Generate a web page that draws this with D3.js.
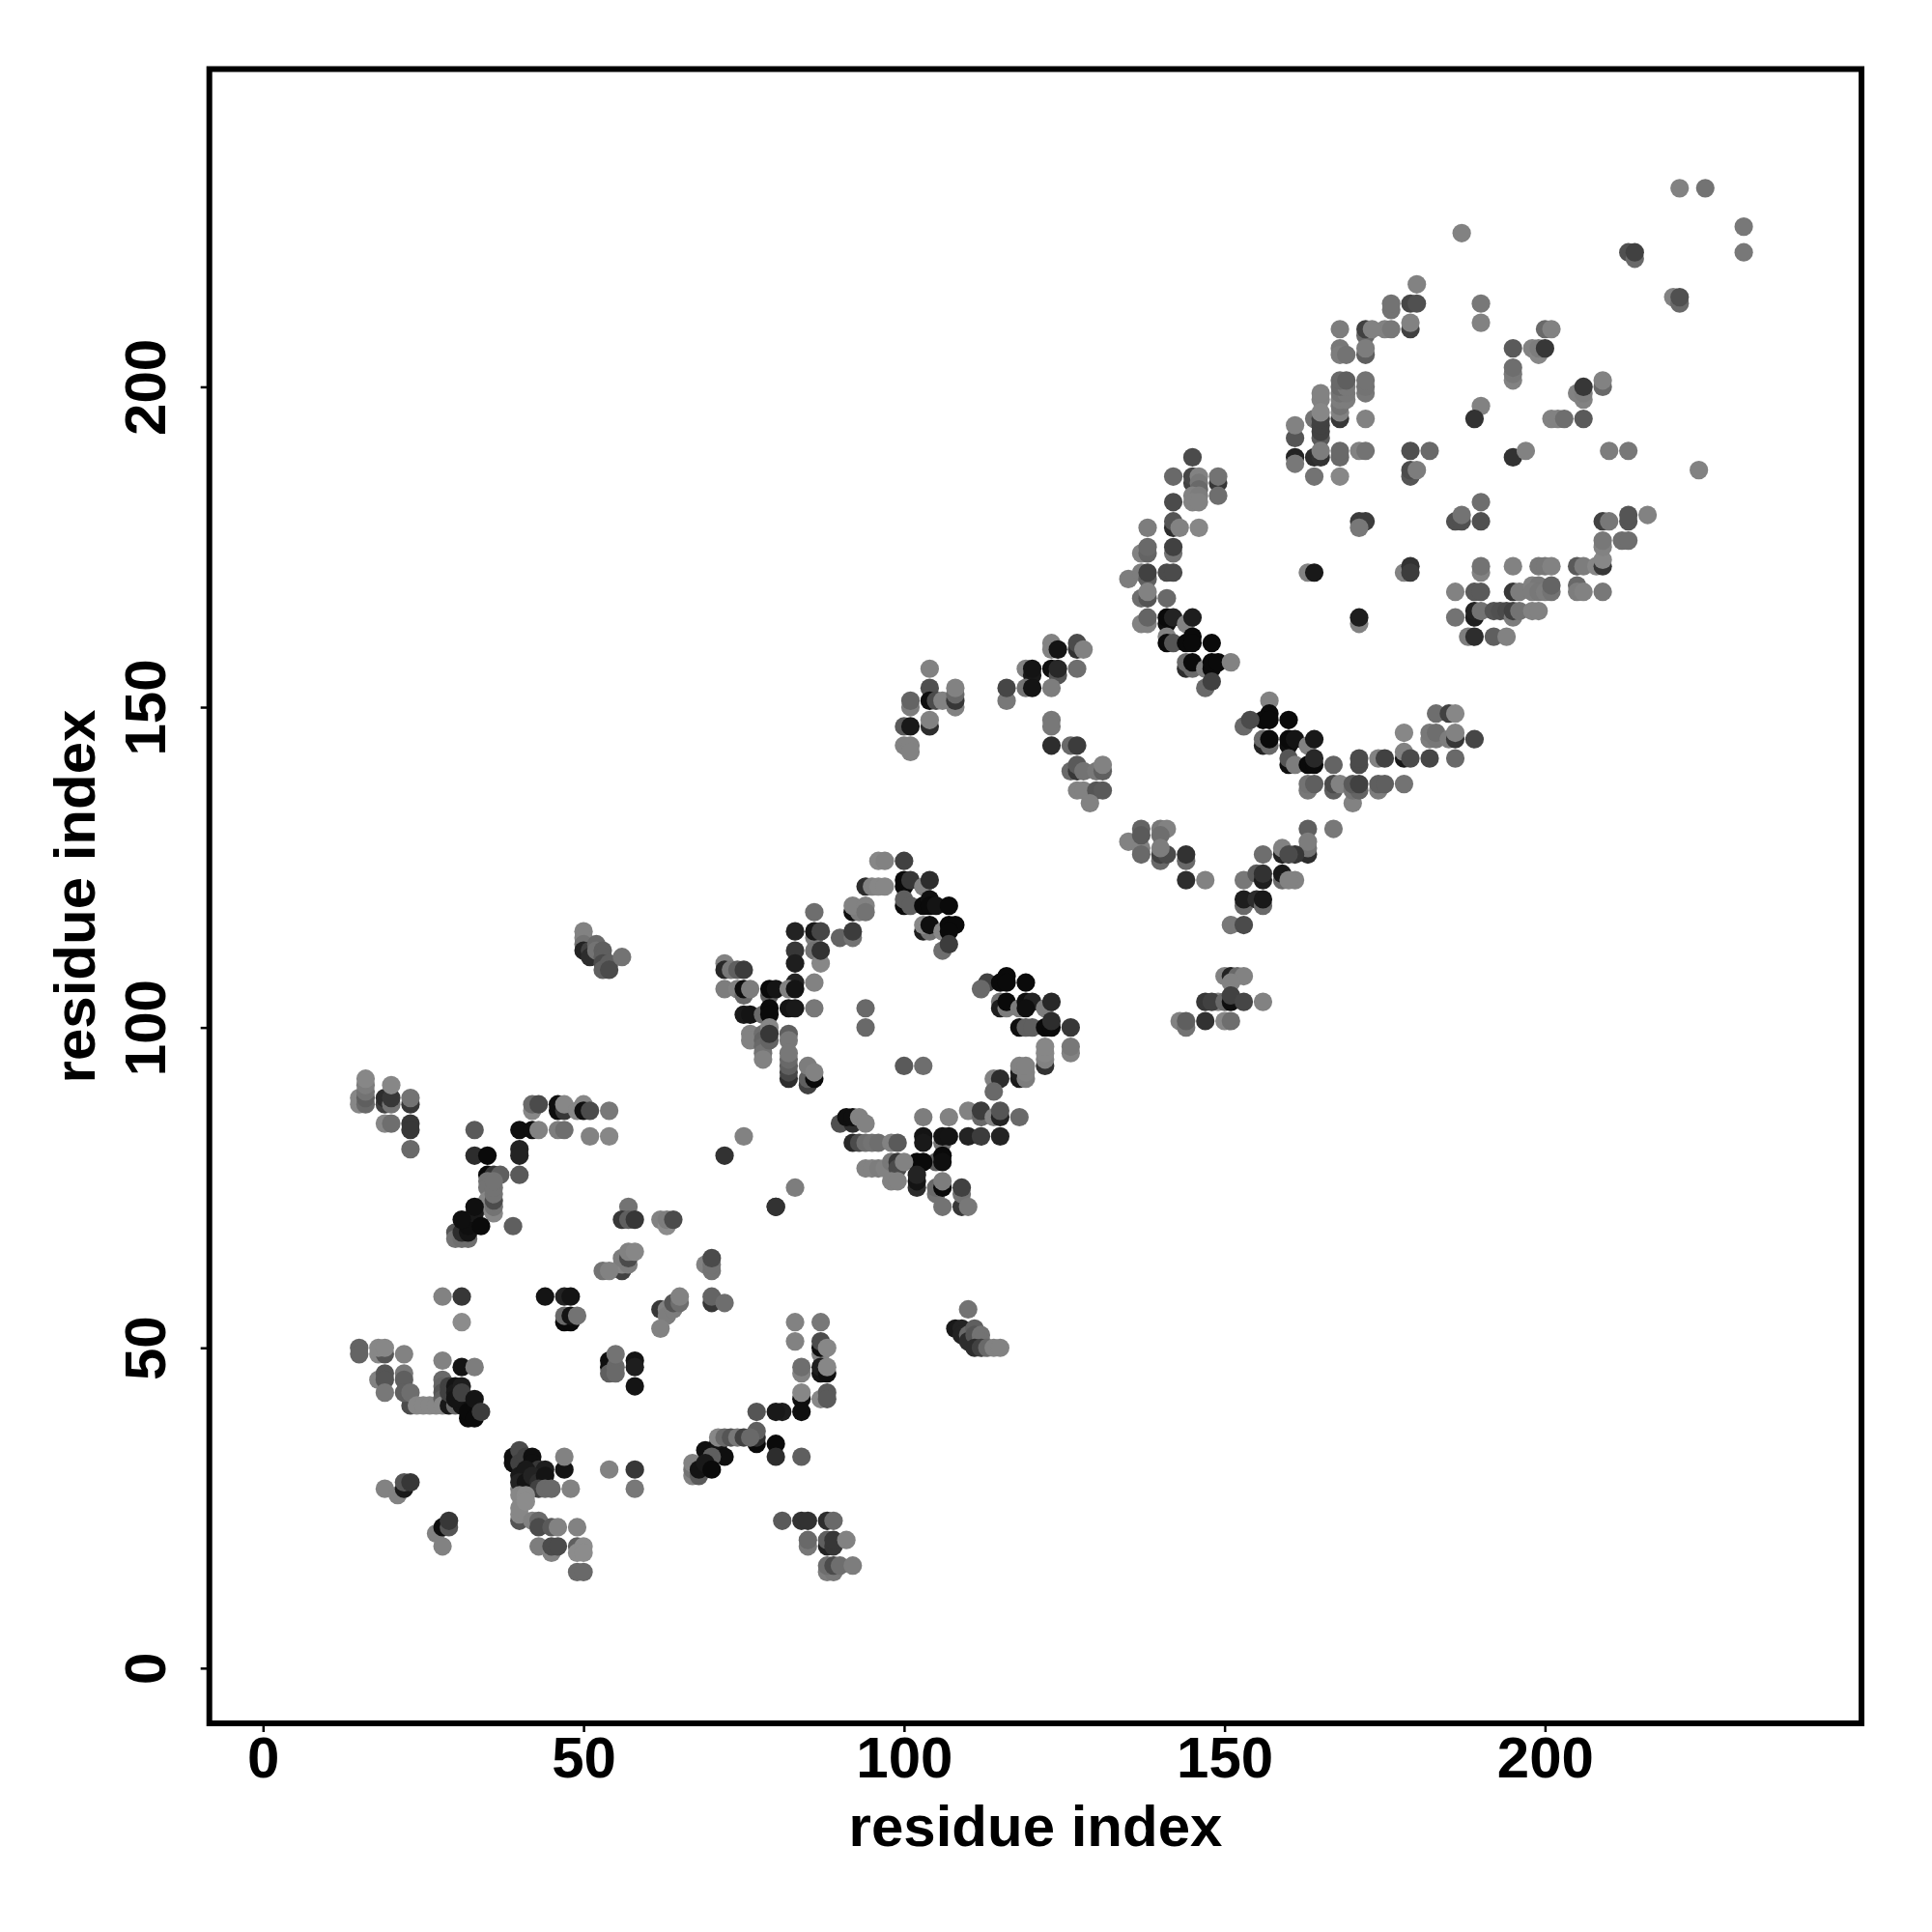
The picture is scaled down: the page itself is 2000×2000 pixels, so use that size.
<!DOCTYPE html>
<html><head><meta charset="utf-8">
<script src="https://cdnjs.cloudflare.com/ajax/libs/d3/7.8.5/d3.min.js"></script>
<style>html,body{margin:0;padding:0;background:#fff}svg{display:block}</style></head>
<body><svg id="c" width="2000" height="2000"></svg>
<script>
const tickLabels=[0,50,100,150,200];
const axisTitle="residue index";
// each entry: [residue i, residue j, grey level of the dot]
const lowerLeftA=[[15,89,130],[15,88,130],[16,88,100],[16,89,90],[16,90,110],[16,91,120],[16,92,130],[19,88,60],[19,89,40],[20,88,110],[20,89,50],[20,91,130],[23,88,50],[23,89,110],[19,85,130],[20,85,105],[23,85,50],[23,84,50],[23,81,100],[33,84,85],[33,80,40],[35,80,5],[40,84,10],[42,84,10],[43,84,125],[46,84,120],[47,84,105],[40,81,30],[40,80,30],[40,77,85],[42,87,130],[42,88,100],[43,88,70],[46,87,10],[46,88,10],[47,87,50],[47,88,130],[49,87,130],[50,88,130],[50,87,10],[51,87,70],[54,87,115],[51,83,125],[54,83,130],[35,77,5],[36,77,50],[37,77,90],[35,76,110],[35,75,110],[35,73,130],[34,72,130],[36,71,130],[36,72,110],[36,73,70],[36,74,110],[36,75,110],[36,76,110],[30,68,80],[30,67,110],[31,67,105],[32,67,105],[31,68,40],[32,68,15],[32,69,10],[33,71,20],[33,72,10],[31,70,10],[34,69,5],[39,69,90],[53,62,110]];
const lowerLeftB=[[28,58,125],[31,58,50],[44,58,15],[47,58,30],[48,58,15],[31,54,135],[47,54,5],[48,54,5],[47,55,100],[48,55,15],[49,55,110],[15,50,95],[15,49,95],[18,49,130],[19,49,80],[18,50,130],[19,50,130],[22,49,125],[28,48,125],[31,47,15],[33,47,120],[18,45,125],[19,46,80],[19,45,80],[19,43,115],[22,46,115],[22,45,90],[23,41,70],[22,43,90],[23,43,105],[24,41,130],[25,41,130],[26,41,130],[27,41,130],[28,45,100],[28,44,95],[28,43,80],[28,42,90],[28,41,130],[29,41,20],[29,44,60],[29,43,60],[30,41,100],[31,41,15],[30,44,15],[30,43,20],[30,42,15],[31,44,25],[31,43,60],[32,39,5],[32,40,5],[33,39,5],[33,42,15],[34,40,55]];
const lowerLeftC=[[39,33,10],[39,32,10],[40,34,70],[40,32,60],[41,33,60],[42,33,10],[42,32,10],[43,31,50],[44,31,25],[47,31,15],[47,33,125],[54,31,125],[40,28,120],[40,30,20],[41,31,20],[40,29,30],[41,29,15],[42,30,30],[43,29,40],[44,30,15],[43,28,60],[44,28,100],[45,28,100],[48,28,125],[40,27,130],[40,23,80],[40,24,130],[40,25,130],[41,27,135],[41,26,135],[42,23,125],[43,23,100],[43,22,70],[45,22,85],[46,22,125],[49,22,125],[43,19,120],[45,18,125],[45,19,70],[46,19,70],[49,19,90],[49,18,135],[50,19,135],[50,18,135],[49,15,100],[50,15,100],[19,28,125],[21,27,125],[22,28,20],[22,29,80],[23,29,50],[27,21,125],[28,19,125],[28,22,10],[29,22,80],[29,23,50]];
const midLowA=[[57,72,110],[56,70,50],[57,70,90],[58,70,50],[62,70,125],[63,69,135],[63,70,120],[64,70,70],[80,72,50],[56,62,60],[56,63,130],[56,64,120],[57,63,120],[57,64,70],[57,65,125],[58,65,130],[54,62,125],[69,63,125],[70,62,110],[70,63,110],[70,64,70],[70,57,50],[70,58,95],[72,57,105],[62,56,50],[63,56,125],[63,55,120],[64,56,120],[64,57,80],[65,57,105],[65,58,125],[62,53,125],[83,54,125],[87,54,115],[83,51,125],[87,49,125],[87,50,10],[87,51,70],[88,50,130],[84,46,125],[84,47,105],[87,46,15],[87,47,25],[88,46,10],[88,47,130],[84,42,10],[84,43,130],[87,42,130],[88,43,85],[88,42,85],[84,40,10],[81,40,25],[80,40,20],[77,40,80],[77,35,5],[77,36,40],[77,37,90],[80,35,5],[80,33,40],[84,33,90]];
const midLowB=[[69,34,10],[71,35,10],[71,34,15],[72,33,10],[71,36,130],[72,36,100],[73,36,80],[74,36,115],[75,36,60],[76,36,100],[70,33,90],[67,30,125],[67,31,110],[67,32,125],[68,30,85],[68,31,15],[69,32,20],[70,31,5],[54,48,10],[54,47,10],[54,46,90],[55,47,100],[55,46,100],[55,49,110],[58,48,15],[58,47,25],[58,44,15],[58,31,50],[58,28,115],[81,23,85],[84,23,45],[85,23,45],[88,23,40],[89,23,100],[85,19,115],[85,20,100],[88,19,30],[88,20,90],[89,19,50],[89,20,50],[91,20,125],[88,15,120],[89,15,115],[88,16,105],[89,16,70],[90,16,105],[92,16,120]];
const betaRingA=[[96,126,130],[97,126,125],[100,126,60],[94,122,40],[95,122,125],[96,122,130],[97,122,130],[100,123,5],[100,122,5],[101,123,50],[103,122,125],[104,123,40],[92,118,10],[93,118,120],[92,119,125],[94,119,125],[94,118,110],[100,119,5],[100,120,90],[101,119,90],[103,119,5],[104,120,10],[104,119,5],[105,119,15],[107,119,5],[103,115,25],[104,115,110],[103,116,130],[104,116,10],[106,115,130],[107,116,5],[108,116,5],[107,115,5],[106,112,105],[107,113,55],[86,118,105],[83,115,30],[86,114,120],[86,115,20],[87,115,65],[83,112,50],[83,110,25],[86,112,110],[87,110,130],[87,112,45],[90,114,95],[92,114,110],[92,115,55]];
const betaRingB=[[72,110,125],[72,109,35],[73,109,115],[74,109,90],[75,109,55],[72,106,120],[74,106,125],[75,105,100],[75,106,10],[76,106,120],[79,105,90],[79,106,5],[80,106,15],[83,107,30],[82,106,125],[83,106,15],[86,107,125],[75,102,20],[76,102,15],[78,102,100],[79,103,5],[79,102,5],[82,103,15],[83,103,20],[86,103,115],[76,99,125],[76,98,125],[78,99,105],[78,98,95],[78,97,100],[78,96,110],[78,95,125],[79,100,130],[79,98,95],[79,99,50],[82,99,90],[82,98,115],[82,92,40],[82,93,65],[82,94,90],[82,95,100],[82,96,115],[85,91,60],[85,92,90],[86,92,5],[85,94,120],[86,93,125],[94,103,100],[94,100,100],[100,94,85],[103,94,105]];
const betaRingC=[[113,107,60],[112,106,100],[115,107,5],[116,108,5],[116,107,5],[119,107,5],[115,104,110],[115,103,25],[116,103,120],[116,104,5],[118,103,120],[119,104,10],[120,104,30],[119,103,10],[122,103,120],[123,104,35],[118,100,10],[119,100,90],[120,100,90],[122,100,5],[123,100,5],[123,101,40],[126,100,50],[122,94,45],[122,95,125],[122,96,130],[122,97,130],[126,96,125],[126,97,115],[118,92,20],[118,93,25],[118,94,125],[119,92,120],[119,93,125],[119,94,125],[114,92,125],[115,92,40],[114,90,100],[110,87,125],[112,86,100],[112,87,55],[114,86,125],[115,86,30],[115,87,80],[118,86,100],[103,86,120],[107,86,125]];
const betaRingD=[[106,82,110],[103,83,15],[103,82,20],[106,83,15],[107,83,15],[110,83,30],[112,83,55],[115,83,30],[105,79,90],[106,80,5],[106,79,10],[102,79,5],[103,79,5],[90,85,75],[92,85,40],[91,86,10],[92,86,10],[93,86,125],[94,85,125],[92,82,35],[93,82,70],[94,82,105],[95,82,110],[96,82,105],[98,82,125],[99,82,85],[94,78,125],[95,78,125],[96,78,120],[97,78,125],[98,79,115],[99,79,50],[99,78,70],[100,79,125],[98,76,125],[99,76,125],[102,75,40],[102,76,15],[102,77,30],[105,74,110],[105,75,100],[106,75,5],[106,76,120],[106,72,110],[109,72,50],[109,74,110],[109,75,60],[110,72,115],[75,83,125],[72,80,45],[83,75,120],[80,72,45]];
const bridgeA=[[104,156,125],[104,153,75],[101,150,120],[101,151,95],[104,151,10],[105,151,70],[100,147,85],[101,147,20],[104,147,40],[104,148,125],[100,144,125],[101,144,125],[101,143,125],[106,151,125],[108,150,125],[108,151,50],[108,152,100],[108,153,125],[116,151,115],[116,153,65],[119,156,125],[120,155,20],[120,156,15],[119,153,110],[120,153,15],[123,156,10],[124,155,80],[124,156,35],[123,153,120],[127,156,105],[123,160,125],[123,159,125],[124,159,15],[127,159,45],[127,160,70],[128,159,125],[123,148,115],[123,147,115],[123,144,40],[126,144,100],[127,144,55],[126,140,100],[127,140,50],[127,141,85],[128,140,110],[130,140,115],[131,140,90],[131,141,125],[127,137,125],[128,137,125],[130,137,80],[131,137,85],[129,135,125],[135,129,125],[137,128,125],[137,127,100],[137,131,95],[137,130,85],[140,131,115],[141,131,125],[140,130,105],[140,126,100],[140,127,60],[141,127,70],[140,128,120],[144,126,100],[144,127,45],[144,123,40],[147,123,125]];
const bridgeB=[[145,189,70],[142,186,100],[145,185,60],[145,186,65],[146,186,125],[149,185,50],[149,186,110],[149,183,105],[146,185,115],[146,184,100],[145,183,125],[146,183,120],[145,182,125],[146,182,125],[142,182,70],[142,178,40],[142,179,80],[143,178,125],[146,178,130],[138,178,120],[137,174,125],[138,174,95],[138,175,100],[142,174,110],[142,175,60],[135,170,120],[137,171,120],[138,170,90],[138,171,60],[141,171,70],[142,171,70],[137,167,105],[138,167,80],[138,168,125],[141,167,100],[137,163,125],[138,163,125],[138,164,95],[141,163,10],[141,164,5],[142,164,30],[144,163,125],[145,164,25],[141,161,125],[141,160,5],[142,160,80],[144,160,5],[145,161,5],[145,160,5],[148,160,5],[144,156,40],[144,157,100],[145,156,100],[145,157,5],[147,156,120],[148,156,5],[148,157,5],[149,157,5],[151,157,125],[147,153,100],[148,154,60]];
const bridgeC=[[157,151,125],[157,149,5],[156,148,5],[157,148,5],[160,148,5],[153,147,100],[154,148,70],[156,144,30],[156,145,100],[157,144,100],[157,145,5],[160,144,10],[160,145,5],[161,145,15],[163,144,125],[164,145,20],[160,141,10],[160,142,80],[161,141,120],[163,141,5],[164,141,5],[164,142,35],[167,141,95],[171,141,70],[171,142,70],[174,142,125],[175,142,60],[178,142,20],[178,143,125],[179,142,70],[182,142,65],[186,142,100],[178,146,130],[183,149,105],[185,149,60],[186,149,130],[182,145,120],[183,145,115],[182,146,115],[183,146,105],[185,145,120],[186,145,50],[186,146,125],[189,145,65],[163,137,115],[163,138,110],[164,138,90],[167,137,90],[167,138,70],[168,138,125],[170,135,125],[170,137,110],[171,137,95],[170,138,85],[171,138,60],[174,137,120],[174,138,90],[175,138,90],[178,138,110],[163,131,90],[167,131,115],[163,127,40],[163,128,110],[163,129,120],[161,127,50],[161,123,125]];
const bridgeD=[[159,127,30],[159,128,125],[156,127,105],[160,127,70],[153,123,115],[155,124,85],[156,123,25],[156,124,45],[159,123,100],[159,124,20],[160,123,125],[153,119,100],[153,120,25],[155,120,40],[156,119,100],[156,120,20],[151,116,115],[153,116,70],[150,108,125],[151,108,30],[152,108,100],[153,108,125],[151,107,125],[143,101,125],[144,100,110],[144,101,90],[149,104,130],[147,101,45],[147,104,50],[148,104,60],[150,104,100],[151,104,10],[151,105,60],[153,104,65],[156,104,125],[150,101,130],[151,101,105]];
const upperA=[[187,224,125],[180,216,125],[176,212,110],[176,213,110],[179,213,65],[180,213,75],[179,209,60],[179,210,125],[175,209,125],[176,209,115],[172,208,100],[172,209,60],[173,209,125],[168,209,120],[190,213,115],[190,210,125],[168,206,115],[168,205,120],[169,205,110],[172,205,90],[172,206,120],[168,195,50],[168,196,125],[168,197,110],[168,198,120],[169,198,120],[168,199,110],[169,199,115],[168,200,100],[169,200,115],[168,201,100],[169,201,90],[172,199,115],[172,200,110],[172,201,110],[172,195,125],[165,198,125],[165,199,125],[164,195,110],[165,192,85],[165,193,60],[165,194,60],[165,195,60],[165,196,130],[161,192,80],[161,194,125],[161,189,30],[161,188,115],[164,189,40],[165,189,45],[165,190,120],[168,189,100],[168,190,100],[171,190,125],[172,190,110],[164,186,110],[168,186,130],[179,190,75],[182,190,100],[179,186,80],[179,187,70],[180,187,120],[171,179,55],[172,179,55],[171,178,115],[163,171,125],[164,171,20],[178,171,125],[179,172,45],[179,171,55],[171,163,125],[171,164,25]];
const upperB=[[190,197,125],[189,195,45],[195,206,85],[195,201,125],[195,202,115],[195,203,105],[198,206,125],[199,205,130],[199,206,120],[200,206,50],[200,209,100],[201,209,125],[206,198,125],[205,199,125],[206,199,120],[206,200,50],[209,200,100],[209,201,125],[201,195,125],[202,195,125],[203,195,105],[206,195,85],[195,189,45],[197,190,125],[210,190,120],[213,190,115],[224,187,125],[220,214,125],[221,213,100],[221,214,75],[221,231,125],[225,231,110],[231,225,115],[231,221,115],[213,221,75],[214,220,100],[214,221,60]];
const upperC=[[190,182,105],[186,179,75],[187,179,75],[187,180,110],[190,179,75],[190,171,125],[190,172,110],[195,172,125],[199,172,115],[200,172,115],[201,172,125],[205,172,85],[206,172,120],[208,172,130],[209,172,50],[209,173,130],[209,175,125],[209,176,115],[212,176,105],[213,176,105],[209,179,60],[210,179,115],[213,179,80],[213,180,80],[216,180,125],[186,168,125],[189,168,85],[190,168,85],[195,168,50],[196,168,120],[198,169,125],[199,169,115],[198,168,120],[199,168,115],[200,168,120],[201,168,110],[201,169,95],[205,169,100],[205,168,120],[206,168,125],[209,168,115],[186,164,110],[189,164,25],[189,165,30],[190,165,110],[192,165,80],[193,165,75],[194,165,70],[195,164,120],[195,165,60],[196,165,110],[198,165,125],[199,165,125],[188,161,120],[189,161,40],[192,161,90],[194,161,125]];
const farA=[[50,115,125],[50,114,125],[50,113,110],[50,112,30],[51,112,60],[51,111,40],[52,113,100],[52,112,110],[53,112,90],[53,111,90],[53,110,70],[54,110,90],[53,109,90],[54,109,70],[56,111,110]];
const farB=[[110,56,110],[108,53,20],[109,53,30],[109,52,30],[110,52,100],[110,51,40],[111,53,90],[111,52,80],[112,52,110],[112,51,110],[111,50,40],[112,50,60],[113,50,100],[114,50,125],[115,50,125]];

const contacts=[lowerLeftA,lowerLeftB,lowerLeftC,midLowA,midLowB,betaRingA,betaRingB,betaRingC,betaRingD,bridgeA,bridgeB,bridgeC,bridgeD,upperA,upperB,upperC,farA,farB].flat();

const L=216.7,R=1927,T=71.5,B=1784;
const x=d3.scaleLinear().domain([-8.38,249.37]).range([L,R]);
const y=d3.scaleLinear().domain([-8.62,249.6]).range([B,T]);
const grey=d3.scaleLinear().domain([5,135]).range([10,140]);
const svg=d3.select("#c");
svg.append("rect").attr("width",2000).attr("height",2000).attr("fill","#fff");
svg.append("g").selectAll("circle").data(contacts).join("circle")
 .attr("cx",d=>x(d[0])).attr("cy",d=>y(d[1])).attr("r",9.6)
 .attr("fill",d=>{const g=grey(d[2]);return d3.rgb(g,g,g).formatHex();});
svg.append("rect").attr("x",L).attr("y",T).attr("width",R-L).attr("height",B-T)
 .attr("fill","none").attr("stroke","#000").attr("stroke-width",6);
const font="'Liberation Sans',Arial,sans-serif";
const gx=svg.append("g").attr("transform",`translate(0,${B})`)
 .call(d3.axisBottom(x).tickValues(tickLabels).tickSize(9).tickPadding(0).tickFormat(d3.format("d")));
gx.select(".domain").remove();
gx.selectAll("line").attr("stroke","#000").attr("stroke-width",2.5);
gx.selectAll("text").attr("y",56).attr("dy",null).attr("font-family",font).attr("font-weight","bold").attr("font-size",60).attr("fill","#000");
const gy=svg.append("g").attr("transform",`translate(${L},0)`)
 .call(d3.axisLeft(y).tickValues(tickLabels).tickSize(9).tickPadding(0).tickFormat(d3.format("d")));
gy.select(".domain").remove();
gy.selectAll("line").attr("stroke","#000").attr("stroke-width",2.5);
gy.selectAll("text").attr("x",null).attr("dy",null).attr("text-anchor","middle")
 .attr("transform","translate(-46,0) rotate(-90)").attr("font-family",font).attr("font-weight","bold").attr("font-size",60).attr("fill","#000");
svg.append("text").attr("x",1072).attr("y",1911).attr("text-anchor","middle").attr("font-family",font).attr("font-weight","bold").attr("font-size",60).text(axisTitle);
svg.append("text").attr("transform","translate(98,928) rotate(-90)").attr("text-anchor","middle").attr("font-family",font).attr("font-weight","bold").attr("font-size",60).text(axisTitle);
</script></body></html>
